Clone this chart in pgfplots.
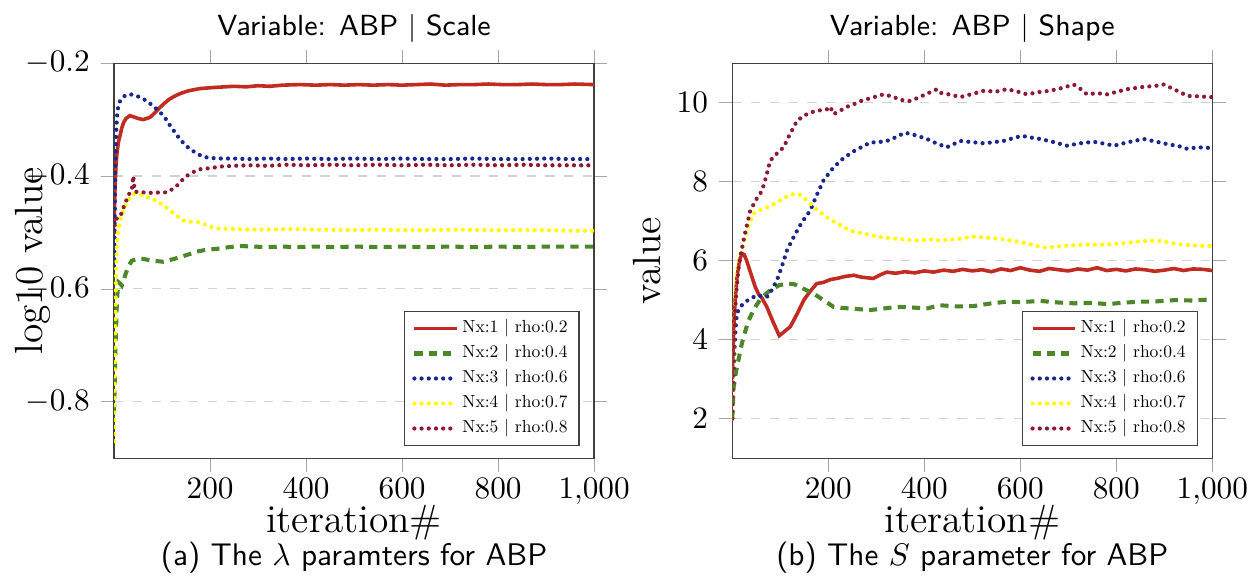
\documentclass[border=0pt]{standalone}
\usepackage{pgfplots}
\pgfplotsset{compat=1.18}
\definecolor{nxone}{rgb}{0.76,0.17,0.13}
\definecolor{nxtwo}{rgb}{0.30,0.53,0.16}
\definecolor{nxthree}{rgb}{0.10,0.15,0.56}
\definecolor{nxfour}{rgb}{1,1,0}
\definecolor{nxfive}{rgb}{0.56,0.10,0.20}
\newcommand{\legtxt}[1]{\scalebox{0.56}{#1}}
\pgfplotsset{
  common/.style={
    width=153.6pt, height=126.4pt, scale only axis,
    xmin=0, xmax=1000, xtick={200,400,600,800,1000},
    tick align=outside,
    ymajorgrids, grid style={dashed, gray!35},
    major tick style={gray!70},
    axis line style={black!75},
    tick label style={font=\fontsize{10}{12}\selectfont},
    xticklabel style={yshift=1.2pt},
    xlabel={iteration\#},
    xlabel style={at={(axis description cs:0.5,-0.187)}, anchor=base, font=\fontsize{12.6}{15}\selectfont},
    ylabel style={anchor=base, font=\fontsize{12.6}{15}\selectfont},
    every axis title shift=0pt,
    title style={at={(axis description cs:0.5,1.071)}, anchor=base, font=\sffamily\fontsize{9.3}{11}\selectfont},
    legend style={at={(0.97,0.03)}, anchor=south east, draw=black!75,
      inner xsep=2.5pt, inner ysep=1.5pt,
      nodes={inner sep=1.2pt, text depth=1.4pt, text height=4.2pt},
      font=\fontsize{10}{12}\selectfont, cells={anchor=west}},
    legend image code/.code={\draw[#1] (0pt,0pt) -- (13.5pt,0pt);},
  },
  s1/.style={color=nxone, line width=1.15pt},
  s2/.style={color=nxtwo, line width=1.3pt, dash pattern=on 2.6pt off 2pt},
  s3/.style={color=nxthree, line width=1.35pt, line cap=round, dash pattern=on 0pt off 2.3pt},
  s4/.style={color=nxfour, line width=1.35pt, line cap=round, dash pattern=on 0pt off 2.3pt},
  s5/.style={color=nxfive, line width=1.35pt, line cap=round, dash pattern=on 0pt off 2.3pt},
}
\begin{document}
\begin{tikzpicture}
\useasboundingbox (-36.5pt,-40.6pt) rectangle (365.7pt,146.6pt);
\begin{axis}[common, name=L, at={(0pt,0pt)}, anchor=south west,
  ymin=-0.9, ymax=-0.2, ytick={-0.8,-0.6,-0.4,-0.2},
  ylabel={log10 value},
  ylabel style={at={(axis description cs:-0.15,0.5)}},
  title={Variable: ABP $|$ Scale}]
\addplot[s1] coordinates {(0,-0.49)(2,-0.42)(4,-0.38)(6,-0.36)(9,-0.34)(12,-0.33)(16,-0.315)(20,-0.305)(25,-0.298)(33,-0.293)(40,-0.295)(50,-0.298)(61,-0.300)(68,-0.298)(75,-0.296)(85,-0.288)(95,-0.279)(105,-0.271)(115,-0.264)(125,-0.259)(135,-0.255)(144,-0.252)(155,-0.249)(167,-0.247)(179,-0.245)(195,-0.244)(210,-0.243)(230,-0.242)(250,-0.241)(275,-0.242)(300,-0.240)(325,-0.241)(350,-0.239)(387,-0.238)(420,-0.239)(450,-0.238)(480,-0.239)(510,-0.238)(540,-0.239)(570,-0.238)(600,-0.239)(630,-0.238)(660,-0.237)(690,-0.239)(720,-0.238)(750,-0.238)(780,-0.237)(810,-0.238)(840,-0.238)(870,-0.237)(900,-0.238)(930,-0.238)(960,-0.237)(1000,-0.238)};
\addlegendentry{\legtxt{Nx:1 $|$ rho:0.2}}
\addplot[s2] coordinates {(0,-0.82)(3,-0.70)(6,-0.62)(9,-0.588)(12,-0.59)(16,-0.594)(20,-0.585)(23,-0.576)(30,-0.56)(37,-0.55)(50,-0.547)(61,-0.547)(80,-0.550)(103,-0.552)(120,-0.548)(137,-0.544)(155,-0.539)(172,-0.534)(190,-0.531)(214,-0.529)(240,-0.526)(262,-0.524)(290,-0.525)(318,-0.526)(350,-0.525)(380,-0.526)(420,-0.525)(460,-0.526)(500,-0.525)(550,-0.526)(600,-0.525)(650,-0.526)(700,-0.525)(750,-0.526)(800,-0.525)(850,-0.526)(900,-0.525)(950,-0.525)(1000,-0.525)};
\addlegendentry{\legtxt{Nx:2 $|$ rho:0.4}}
\addplot[s3] coordinates {(0,-0.56)(2,-0.42)(4,-0.33)(6,-0.295)(9,-0.275)(12.5,-0.267)(20,-0.259)(30,-0.255)(40,-0.256)(47,-0.258)(58,-0.262)(68,-0.267)(80,-0.275)(96,-0.287)(107,-0.298)(117,-0.311)(127,-0.323)(137.5,-0.335)(148,-0.345)(158,-0.352)(172,-0.360)(186,-0.366)(200,-0.368)(220,-0.369)(248,-0.369)(280,-0.370)(320,-0.369)(360,-0.370)(400,-0.369)(450,-0.370)(500,-0.369)(550,-0.370)(600,-0.369)(650,-0.370)(700,-0.370)(750,-0.369)(800,-0.370)(850,-0.370)(900,-0.369)(950,-0.370)(1000,-0.370)};
\addlegendentry{\legtxt{Nx:3 $|$ rho:0.6}}
\addplot[s4] coordinates {(0,-0.87)(2,-0.70)(4,-0.58)(6,-0.52)(9,-0.495)(12.5,-0.479)(18,-0.465)(25,-0.450)(32,-0.440)(40,-0.432)(50,-0.432)(61,-0.435)(75,-0.439)(89,-0.444)(103,-0.452)(117,-0.461)(130,-0.470)(144,-0.479)(160,-0.481)(179,-0.482)(195,-0.488)(214,-0.493)(250,-0.494)(283,-0.495)(320,-0.495)(373,-0.494)(420,-0.495)(480,-0.496)(540,-0.495)(600,-0.496)(660,-0.496)(720,-0.495)(780,-0.496)(840,-0.496)(900,-0.496)(960,-0.497)(1000,-0.497)};
\addlegendentry{\legtxt{Nx:4 $|$ rho:0.7}}
\addplot[s5] coordinates {(0,-0.50)(2,-0.48)(6,-0.475)(12.5,-0.473)(20,-0.455)(28,-0.438)(33,-0.429)(37,-0.425)(40,-0.40)(43,-0.427)(50,-0.429)(61,-0.429)(80,-0.430)(95,-0.429)(110,-0.429)(120,-0.424)(131,-0.417)(141,-0.408)(151,-0.400)(165,-0.393)(179,-0.388)(200,-0.386)(225,-0.383)(248,-0.382)(280,-0.381)(320,-0.382)(360,-0.380)(400,-0.381)(450,-0.380)(500,-0.381)(550,-0.380)(600,-0.381)(650,-0.380)(700,-0.381)(750,-0.380)(800,-0.381)(850,-0.380)(900,-0.381)(950,-0.381)(1000,-0.381)};
\addlegendentry{\legtxt{Nx:5 $|$ rho:0.8}}
\end{axis}
\node[anchor=base, font=\sffamily] at ([yshift=-34.2pt]L.south) {(a) The $\lambda$ paramters for ABP};
\begin{axis}[common, name=R, at={(197.8pt,0pt)}, anchor=south west,
  ymin=1, ymax=11, ytick={2,4,6,8,10},
  ylabel={value},
  ylabel style={at={(axis description cs:-0.15,0.5)}},
  title={Variable: ABP $|$ Shape}]
\addplot[s1] coordinates {(0,3.0)(3,4.3)(6,5.0)(10,5.6)(15,6.0)(20,6.18)(25,6.15)(30,6.0)(38,5.7)(48,5.33)(55,5.15)(62,5.05)(72,4.83)(85,4.45)(98,4.1)(108,4.2)(121,4.33)(135,4.65)(149,5.0)(162,5.22)(176,5.42)(190,5.45)(204,5.52)(218,5.55)(235,5.6)(253,5.63)(270,5.58)(294,5.55)(310,5.65)(322,5.71)(340,5.68)(360,5.72)(380,5.69)(400,5.74)(419,5.71)(440,5.76)(460,5.73)(480,5.78)(500,5.74)(520,5.77)(540,5.72)(560,5.79)(580,5.75)(600,5.82)(620,5.76)(640,5.73)(660,5.80)(680,5.77)(700,5.74)(720,5.79)(740,5.76)(760,5.82)(780,5.75)(800,5.78)(820,5.74)(840,5.79)(860,5.77)(880,5.73)(900,5.76)(920,5.80)(940,5.75)(960,5.79)(980,5.78)(1000,5.75)};
\addlegendentry{\legtxt{Nx:1 $|$ rho:0.2}}
\addplot[s2] coordinates {(0,2.0)(3,2.81)(8,3.2)(13,3.49)(18,3.8)(23.6,4.07)(33,4.45)(44,4.75)(60,5.05)(79,5.25)(98,5.38)(117,5.42)(130,5.40)(142,5.33)(155,5.25)(169,5.17)(190,5.0)(211,4.83)(230,4.80)(246,4.79)(265,4.77)(287,4.75)(310,4.78)(330,4.81)(350,4.83)(380,4.81)(405,4.79)(433,4.87)(470,4.84)(503,4.85)(540,4.92)(572,4.96)(600,4.95)(642,4.98)(680,4.94)(711,4.92)(750,4.93)(781,4.90)(820,4.94)(850,4.96)(885,4.97)(920,5.00)(960,4.99)(1000,5.02)};
\addlegendentry{\legtxt{Nx:2 $|$ rho:0.4}}
\addplot[s3] coordinates {(0,2.0)(1.5,2.6)(4,3.6)(7,4.3)(9.7,4.66)(15,4.8)(23.6,4.92)(35,5.02)(51,5.12)(62,5.1)(72,5.08)(82,5.25)(93,5.5)(104,5.88)(114,6.26)(130,6.65)(145,6.97)(162.5,7.27)(176,7.66)(190,8.03)(207,8.3)(225,8.53)(250,8.75)(270,8.88)(287.5,8.99)(305,9.0)(322,9.03)(340,9.12)(360,9.24)(383,9.17)(405.5,9.08)(425,8.97)(447,8.87)(475,9.03)(500,9.0)(524,8.97)(545,9.0)(565,9.03)(585,9.1)(603.5,9.16)(620,9.12)(641.7,9.08)(670,9.0)(697,8.91)(725,8.97)(753,9.01)(775,8.96)(795,8.91)(825,9.0)(857,9.08)(880,9.02)(906,8.95)(930,8.9)(948,8.83)(970,8.87)(1000,8.85)};
\addlegendentry{\legtxt{Nx:3 $|$ rho:0.6}}
\addplot[s4] coordinates {(0,2.0)(2,3.5)(4,4.6)(7,5.3)(9.7,5.75)(15,6.1)(23.6,6.43)(33,6.85)(44,7.19)(58,7.28)(72,7.35)(90,7.45)(110,7.6)(128,7.69)(142,7.66)(155.6,7.52)(175,7.3)(197,7.1)(220,6.93)(246,6.76)(275,6.68)(308,6.6)(345,6.55)(385,6.51)(410,6.54)(433,6.51)(470,6.55)(503,6.61)(530,6.58)(551,6.56)(575,6.52)(600,6.47)(625,6.40)(649,6.33)(680,6.36)(711,6.39)(740,6.41)(767,6.40)(790,6.42)(815,6.44)(850,6.49)(884,6.51)(910,6.46)(933,6.41)(965,6.38)(1000,6.37)};
\addlegendentry{\legtxt{Nx:4 $|$ rho:0.7}}
\addplot[s5] coordinates {(0,2.0)(2,3.6)(5,4.6)(9,5.3)(13,5.8)(16.7,6.09)(25,6.6)(37.5,7.27)(50,7.55)(62,7.77)(70,8.1)(79,8.53)(92,8.7)(107,8.87)(120,9.2)(135,9.54)(148,9.66)(162.5,9.75)(180,9.8)(197,9.83)(204,9.9)(211,9.71)(225,9.8)(240,9.9)(253,9.96)(270,10.05)(290,10.12)(315,10.21)(335,10.15)(350,10.07)(371,10.04)(390,10.14)(410,10.25)(426.5,10.34)(433,10.25)(455,10.2)(475,10.14)(500,10.22)(524,10.30)(550,10.28)(572,10.34)(594,10.28)(614,10.21)(640,10.27)(662,10.30)(690,10.38)(711,10.46)(725,10.35)(739,10.21)(760,10.24)(781,10.21)(800,10.27)(822,10.34)(840,10.37)(857,10.40)(880,10.42)(899,10.46)(920,10.34)(935,10.25)(948,10.17)(970,10.16)(996,10.14)(1000,10.14)};
\addlegendentry{\legtxt{Nx:5 $|$ rho:0.8}}
\end{axis}
\node[anchor=base, font=\sffamily] at ([yshift=-34.2pt]R.south) {(b) The $S$ parameter for ABP};
\end{tikzpicture}
\end{document}
